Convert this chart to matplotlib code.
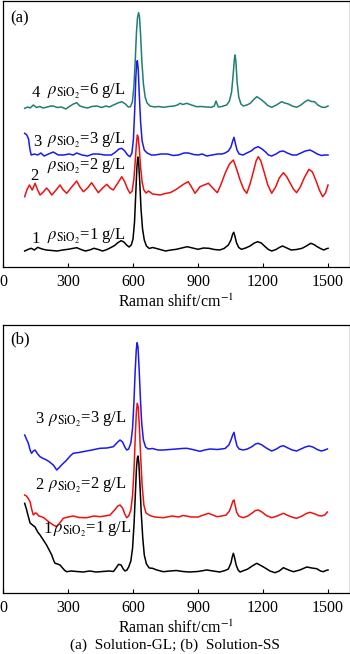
import numpy as np
import matplotlib
matplotlib.use('Agg')
import matplotlib.pyplot as plt

plt.rcParams['font.family'] = ['Liberation Serif', 'DejaVu Serif']
plt.rcParams['mathtext.fontset'] = 'stix'

# ---- panel (a): Solution-GL, 1..4 = 1, 2, 3, 6 g/L SiO2 ----
a1_x = [100, 115, 130, 145, 160, 180, 200, 225, 250, 275, 300, 320, 340, 360, 380, 400, 420, 440, 460, 480, 500, 515, 530, 545, 558, 570, 582, 592, 600, 607, 613, 618, 622, 626, 631, 637, 644, 652, 662, 675, 690, 705, 725, 750, 775, 800, 825, 850, 875, 900, 925, 950, 975, 1000, 1020, 1040, 1052, 1060, 1065, 1070, 1078, 1088, 1100, 1120, 1140, 1160, 1175, 1192, 1210, 1225, 1240, 1260, 1275, 1290, 1310, 1330, 1355, 1380, 1400, 1420, 1435, 1450, 1465, 1480, 1490, 1500]
a1_y = [16, 17.5, 18.7, 17, 19.7, 18, 17, 16.5, 16, 17, 17.7, 18.5, 19.3, 17.5, 16, 17, 18.7, 17.5, 16, 17.5, 19.7, 21.5, 24.3, 26.3, 25, 22, 20, 22, 28, 45, 75, 100, 110, 105, 85, 58, 38, 27, 21, 18.5, 19.5, 18.7, 17.5, 16, 17, 17.7, 19, 20.3, 19, 17.7, 19, 18.7, 17.5, 17, 18.5, 22, 27, 33, 34.7, 31, 24, 19.5, 17.7, 19, 21, 24, 25.3, 24, 20.3, 17.5, 16, 17.5, 19.5, 21, 19, 17, 17.5, 18.7, 21, 23.7, 22.5, 20.3, 18.5, 17, 18, 18.7]

a2_x = [100, 110, 122, 135, 148, 160, 171, 186, 201, 213, 225, 245, 263, 278, 294, 317, 340, 355, 371, 390, 409, 425, 440, 460, 479, 494, 509, 530, 548, 560, 575, 586, 596, 604, 611, 616, 620, 624, 629, 635, 642, 650, 660, 672, 690, 708, 725, 748, 771, 795, 817, 835, 855, 870, 886, 898, 909, 928, 948, 968, 989, 1005, 1025, 1045, 1063, 1078, 1094, 1110, 1125, 1140, 1155, 1168, 1178, 1190, 1205, 1222, 1240, 1258, 1275, 1294, 1310, 1325, 1340, 1355, 1372, 1392, 1412, 1428, 1445, 1460, 1475, 1488, 1500]
a2_y = [70.3, 77, 82, 77, 83.7, 77, 72, 75, 79, 76, 72, 77, 82, 77, 73.7, 80, 86, 80, 75.3, 79, 84.3, 79, 74.3, 79, 82.7, 79, 77, 84, 90.3, 86, 78, 73.7, 76, 88, 108, 124, 132, 130, 118, 100, 85, 77, 74, 76, 73, 72.5, 72, 73.5, 74.3, 77, 80.3, 83, 85.3, 80, 73.7, 77, 80.3, 82, 83.7, 79, 74.3, 82, 93.7, 103, 107, 98, 87, 78, 73.7, 83, 95, 106, 110.3, 106, 95, 82, 73.7, 80, 89, 94.3, 90, 84, 78, 74.3, 80, 90, 97.7, 95, 86, 77, 70.3, 74, 82]

a3_x = [100, 110, 118, 124, 130, 145, 160, 175, 190, 210, 232, 255, 280, 305, 325, 340, 365, 390, 415, 440, 470, 500, 520, 535, 548, 562, 575, 586, 595, 602, 608, 613, 617, 620, 624, 629, 635, 642, 652, 665, 685, 700, 730, 760, 785, 810, 835, 855, 880, 900, 920, 940, 965, 990, 1010, 1025, 1040, 1052, 1060, 1066, 1072, 1080, 1090, 1108, 1125, 1145, 1162, 1178, 1195, 1212, 1225, 1240, 1260, 1278, 1294, 1312, 1335, 1355, 1375, 1395, 1417, 1435, 1450, 1470, 1485, 1500]
a3_y = [133.7, 132, 128, 118, 112, 113, 112, 114, 111, 113, 115, 112, 112, 113, 112, 114, 112, 111, 113, 113, 112, 112, 115, 118, 118.7, 116, 112, 110.3, 114, 128, 158, 190, 204, 206.3, 198, 172, 145, 126, 117, 114, 112, 112, 113, 113, 111.5, 112, 114, 114, 112.5, 112, 113, 111, 112, 113, 113, 114, 116, 120, 126, 129.7, 124, 117, 113, 112, 114, 116, 119, 120.3, 118, 115, 112, 111, 113, 115.5, 116, 114, 112, 112, 114, 116, 117, 115, 113, 111.5, 112, 112]

a4_x = [100, 115, 125, 140, 155, 170, 185, 205, 220, 232, 250, 270, 290, 310, 325, 340, 355, 370, 390, 410, 434, 455, 475, 490, 510, 530, 548, 565, 578, 588, 597, 604, 610, 616, 621, 626, 630, 635, 641, 648, 656, 665, 678, 700, 720, 740, 765, 790, 805, 817, 830, 848, 870, 894, 915, 940, 963, 975, 983, 988, 994, 1010, 1032, 1045, 1055, 1062, 1068, 1071, 1075, 1080, 1088, 1098, 1109, 1125, 1140, 1155, 1171, 1188, 1205, 1222, 1240, 1262, 1286, 1300, 1317, 1335, 1355, 1375, 1392, 1408, 1423, 1438, 1453, 1469, 1485, 1500]
a4_y = [158.7, 160, 159, 162, 159.5, 160.5, 159, 160, 161, 161, 159.5, 160, 158, 161, 163, 164.3, 161, 160, 159, 160.5, 161, 159.5, 161, 160, 162, 164, 165.3, 163, 160, 160.3, 165, 180, 205, 235, 250, 254.3, 250, 232, 205, 183, 170, 164, 161, 160, 160.5, 159.7, 160.5, 161, 162, 163.7, 162.5, 163.7, 162, 160.3, 160.5, 160, 159.7, 161, 166, 163, 160, 160.5, 162, 166, 175, 192, 208, 212, 205, 186, 170, 163, 161, 162, 163.5, 167, 170.3, 168, 165, 161.5, 159.7, 162, 165.3, 164, 163, 161, 159.7, 162, 165, 167, 165.5, 165.3, 162, 160, 159.5, 161]

# ---- panel (b): Solution-SS, 1..3 = 1, 2, 3 g/L SiO2 ----
b1_x = [100, 108, 115, 125, 136, 148, 160, 171, 186, 201, 213, 225, 233, 240, 252, 263, 275, 285, 294, 315, 340, 370, 400, 430, 460, 490, 510, 525, 533, 545, 555, 563, 572, 580, 590, 598, 605, 611, 616, 620, 623, 627, 632, 638, 645, 652, 662, 675, 690, 710, 740, 770, 800, 830, 860, 900, 940, 970, 1000, 1025, 1040, 1052, 1058, 1063, 1068, 1076, 1085, 1094, 1112, 1130, 1150, 1171, 1190, 1210, 1232, 1255, 1275, 1294, 1318, 1340, 1370, 1402, 1425, 1448, 1465, 1479, 1490, 1500]
b1_y = [89.7, 84, 78, 70, 68, 66, 61, 58, 53, 48, 43, 38, 33, 29.7, 29, 28, 25, 22.5, 21.3, 22, 21.5, 21, 22, 21, 21.5, 22, 21.5, 26, 28.7, 28, 24, 22, 23, 26, 32, 45, 70, 100, 125, 135, 137, 130, 108, 80, 55, 38, 29, 25, 24.7, 23, 21.3, 22, 22.5, 21.5, 21, 21.5, 23, 22, 21, 22.5, 24, 30, 36, 39.7, 36, 28, 23, 21, 22.5, 24, 27, 29.7, 27.5, 25, 22, 20.3, 22, 25.3, 23, 21.3, 23, 26, 25, 24.3, 22, 21.3, 22.5, 23]

b2_x = [100, 108, 115, 125, 132, 140, 148, 155, 165, 178, 190, 201, 215, 232, 248, 262, 278, 300, 324, 350, 386, 420, 448, 470, 494, 515, 530, 540, 552, 562, 571, 580, 590, 598, 605, 611, 616, 620, 624, 629, 635, 642, 650, 660, 678, 700, 740, 780, 810, 832, 870, 900, 925, 948, 968, 987, 1010, 1030, 1045, 1055, 1061, 1066, 1071, 1078, 1088, 1108, 1130, 1150, 1165, 1178, 1195, 1215, 1240, 1265, 1294, 1320, 1340, 1355, 1380, 1400, 1417, 1440, 1455, 1469, 1485, 1497]
b2_y = [98, 97, 95, 91.3, 84, 78, 80, 79.7, 77, 76.3, 75, 73, 70.5, 68, 66.3, 70, 74.7, 76, 77, 75.5, 75.3, 77, 76.3, 77, 78, 83, 87, 88, 85, 79, 75.3, 77, 83, 98, 125, 160, 183, 189.7, 186, 168, 138, 108, 88, 80, 77.5, 76, 75.3, 77, 76, 77.5, 76, 76, 78, 79.7, 78, 76.3, 77, 78, 82, 88, 92, 93, 88, 81, 77, 75.3, 77, 80, 82.5, 83, 81, 77.5, 75.3, 77, 79.7, 77, 75.5, 74.7, 77, 79.5, 80.7, 79, 77.5, 77, 78, 81]

b3_x = [100, 108, 117, 125, 132, 140, 148, 160, 171, 186, 201, 215, 232, 248, 262, 278, 290, 301, 312, 324, 350, 386, 410, 448, 480, 509, 525, 540, 552, 562, 571, 580, 590, 598, 604, 610, 615, 619, 623, 628, 634, 640, 648, 658, 670, 690, 715, 740, 770, 800, 825, 848, 875, 909, 930, 955, 990, 1025, 1042, 1052, 1060, 1066, 1072, 1080, 1090, 1108, 1128, 1150, 1165, 1178, 1195, 1215, 1240, 1262, 1280, 1294, 1315, 1335, 1355, 1375, 1395, 1412, 1430, 1450, 1469, 1485, 1497]
b3_y = [158, 154, 149.7, 143, 139.7, 142, 143, 139, 136.3, 134.5, 133, 131, 128, 123, 126, 129.7, 132, 134.7, 137.5, 139.7, 140.5, 142, 143, 144.7, 145, 146.3, 150, 153, 151, 146, 143, 144, 150, 165, 190, 222, 243, 250.3, 246, 225, 195, 170, 153, 146, 144, 144.5, 143, 143, 143.5, 144, 144.5, 144.7, 143.5, 141.7, 143, 144, 143.5, 144.5, 148, 153, 158, 160.7, 154, 147, 144, 143, 144, 146.5, 149, 149.7, 148, 145, 142, 144, 146.5, 147.3, 145, 143, 142, 144, 146, 147, 146, 143.5, 142, 143, 144]

colors = ['black', '#ee1111', '#1a1af0', '#1f7f73']
xticks = [0, 300, 600, 900, 1200, 1500]

fig = plt.figure(figsize=(3.5, 6.54), dpi=100)
H = 654.0
ax1 = fig.add_axes([3 / 350, 1 - 267 / H, 346.7 / 350, 266 / H])
ax2 = fig.add_axes([3 / 350, 1 - 593 / H, 346.7 / 350, 268 / H])

for x, y, c in zip([a1_x, a2_x, a3_x, a4_x], [a1_y, a2_y, a3_y, a4_y], colors):
    ax1.plot(x, y, color=c, lw=1.1)
for x, y, c in zip([b1_x, b2_x, b3_x], [b1_y, b2_y, b3_y], colors):
    ax2.plot(x, y, color=c, lw=1.1)

ax1.set_ylim(0, 266)
ax2.set_ylim(0, 268)
for ax in (ax1, ax2):
    ax.set_xlim(0, 1600)
    ax.set_xticks(xticks)
    ax.set_yticks([])
    ax.tick_params(axis='x', direction='in', length=3, width=0.8, labelsize=11.5, pad=5)
    ax.set_xlabel('Raman shift/cm$^{-1}$', fontsize=11.5, labelpad=3)
    for s in ax.spines.values():
        s.set_linewidth(0.9)

fs = 12
rho = r'$\rho_{\mathrm{SiO_2}}$'
# panel (a) labels
ax1.text(32, 245, '(a)', fontsize=fs)
ax1.text(132, 170, '4', fontsize=fs)
ax1.text(205, 172, rho + '=6 g/L', fontsize=fs)
ax1.text(140, 121, '3', fontsize=fs)
ax1.text(205, 123, rho + '=3 g/L', fontsize=fs)
ax1.text(125, 87, '2', fontsize=fs)
ax1.text(205, 97, rho + '=2 g/L', fontsize=fs)
ax1.text(132, 24, '1', fontsize=fs)
ax1.text(205, 27, rho + '=1 g/L', fontsize=fs)

# panel (b) labels
ax2.text(32, 250, '(b)', fontsize=fs)
ax2.text(148, 170, '3', fontsize=fs)
ax2.text(209, 170, rho + '=3 g/L', fontsize=fs)
ax2.text(148, 104, '2', fontsize=fs)
ax2.text(209, 104, rho + '=2 g/L', fontsize=fs)
ax2.text(186, 60, '1', fontsize=fs)
ax2.text(232, 60, rho + '=1 g/L', fontsize=fs)

fig.text(0.5, 1 - 645 / H, '(a)  Solution-GL; (b)  Solution-SS', ha='center', va='center', fontsize=11)

fig.savefig('out.png', dpi=100)
